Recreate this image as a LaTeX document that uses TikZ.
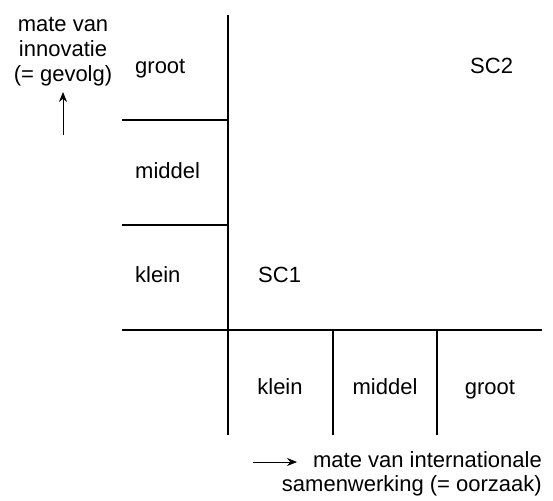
\documentclass[tikz,border=0pt]{standalone}
\usepackage{fontspec}
\setmainfont{Liberation Sans}
\usetikzlibrary{arrows.meta}
\begin{document}
\begin{tikzpicture}[x=1pt,y=-1pt,
  lbl/.style={inner sep=0pt,font=\fontsize{22}{26}\selectfont},
  grid/.style={line width=1.3pt},
  pointer/.style={line width=0.8pt,-{Stealth[length=10pt,width=8pt]}}]
\useasboundingbox (0,0) rectangle (553,500);
% grid lines
\coordinate (vtop) at (228,15);
\coordinate (vbot) at (228,435);
\coordinate (hl) at (122,330);
\coordinate (hr) at (542,330);
\draw[grid] (vtop) -- (vbot);
\draw[grid] (hl) -- (hr);
\coordinate (a1) at (122,120);
\coordinate (a2) at (228,120);
\coordinate (b1) at (122,225);
\coordinate (b2) at (228,225);
\draw[grid] (a1) -- (a2);
\draw[grid] (b1) -- (b2);
\coordinate (c1) at (333,330);
\coordinate (c2) at (333,435);
\coordinate (d1) at (437,330);
\coordinate (d2) at (437,435);
\draw[grid] (c1) -- (c2);
\draw[grid] (d1) -- (d2);
% left axis labels
\node[lbl,anchor=base west] (ygroot) at (135,74) {groot};
\node[lbl,anchor=base west] (ymiddel) at (135,178) {middel};
\node[lbl,anchor=base west] (yklein) at (135,282) {klein};
% bottom axis labels
\node[lbl,anchor=base] (xklein) at (280,394) {klein};
\node[lbl,anchor=base] (xmiddel) at (385,394) {middel};
\node[lbl,anchor=base] (xgroot) at (490,394) {groot};
% cells
\node[lbl,anchor=base west] (sc1) at (258,282) {SC1};
\node[lbl,anchor=base west] (sc2) at (470,74) {SC2};
% axis titles
\node[lbl,anchor=base] (yt1) at (63,32) {mate van};
\node[lbl,anchor=base] (yt2) at (63,57) {innovatie};
\node[lbl,anchor=base] (yt3) at (63,82) {(= gevolg)};
\node[lbl,anchor=base east] (xt1) at (542,467) {mate van internationale};
\node[lbl,anchor=base east] (xt2) at (542,491) {samenwerking (= oorzaak)};
\coordinate (ya0) at (63,135);
\coordinate (ya1) at (63,92);
\draw[pointer] (ya0) -- (ya1);
\coordinate (xa0) at (253,462);
\coordinate (xa1) at (297,462);
\draw[pointer] (xa0) -- (xa1);
\end{tikzpicture}
\end{document}
